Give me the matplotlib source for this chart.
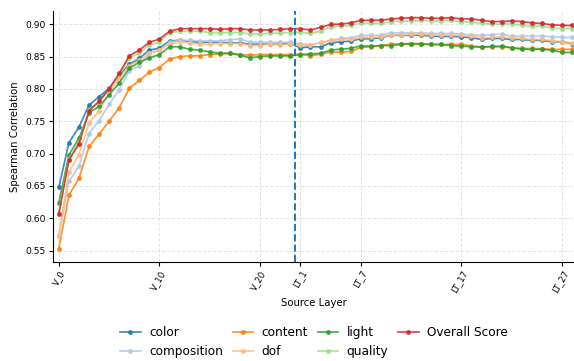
import matplotlib
matplotlib.use("Agg")
import matplotlib.pyplot as plt
import numpy as np

v_layers = [f"V_{i}" for i in range(24)]
lt_layers = [f"LT_{i}" for i in range(1, 29)]
layers = v_layers + lt_layers

tick_labels = ["V_0", "V_10", "V_20", "LT_1", "LT_7", "LT_17", "LT_27"]

color = [0.648, 0.717, 0.741, 0.775, 0.788, 0.801, 0.821, 0.838, 0.847, 0.860, 0.863, 0.874,
         0.875, 0.873, 0.872, 0.872, 0.872, 0.871, 0.871, 0.869, 0.869, 0.869, 0.869, 0.870,
         0.8635, 0.865, 0.865, 0.871, 0.8727, 0.8738, 0.8774, 0.8774, 0.879, 0.883, 0.8825, 0.883,
         0.883, 0.8815, 0.881, 0.881, 0.8805, 0.879, 0.8763, 0.8779, 0.8779, 0.8763, 0.8763, 0.875,
         0.875, 0.8727, 0.8727, 0.870]
composition = [0.572, 0.657, 0.681, 0.731, 0.751, 0.776, 0.799, 0.828, 0.836, 0.855, 0.860, 0.872,
               0.875, 0.875, 0.874, 0.874, 0.874, 0.876, 0.877, 0.872, 0.872, 0.872, 0.872, 0.872,
               0.870, 0.868, 0.871, 0.875, 0.878, 0.879, 0.8825, 0.8825, 0.883, 0.8866, 0.8866, 0.8866,
               0.8866, 0.8856, 0.8856, 0.8856, 0.8846, 0.8835, 0.8825, 0.8835, 0.8846, 0.8815, 0.8815, 0.8815,
               0.8815, 0.8805, 0.8795, 0.8795]
content = [0.553, 0.636, 0.662, 0.711, 0.730, 0.750, 0.771, 0.801, 0.813, 0.826, 0.833, 0.846,
           0.850, 0.851, 0.851, 0.853, 0.854, 0.855, 0.853, 0.852, 0.853, 0.853, 0.853, 0.853,
           0.8537, 0.851, 0.8537, 0.8568, 0.8568, 0.8578, 0.864, 0.865, 0.8666, 0.869, 0.8697, 0.870,
           0.870, 0.8686, 0.8686, 0.8686, 0.869, 0.866, 0.865, 0.865, 0.865, 0.8635, 0.8624, 0.8624,
           0.862, 0.861, 0.861, 0.861]
dof = [0.574, 0.672, 0.698, 0.748, 0.766, 0.794, 0.816, 0.836, 0.844, 0.855, 0.860, 0.869,
       0.873, 0.871, 0.869, 0.869, 0.870, 0.870, 0.870, 0.867, 0.867, 0.869, 0.868, 0.869,
       0.8676, 0.8676, 0.8717, 0.875, 0.8763, 0.8763, 0.8794, 0.8794, 0.8805, 0.883, 0.8835, 0.884,
       0.8846, 0.8835, 0.883, 0.883, 0.8825, 0.881, 0.879, 0.8794, 0.8805, 0.8784, 0.8779, 0.8763,
       0.8763, 0.8743, 0.8727, 0.871]
light = [0.624, 0.698, 0.724, 0.763, 0.773, 0.791, 0.809, 0.832, 0.841, 0.848, 0.853, 0.865,
         0.865, 0.861, 0.860, 0.857, 0.855, 0.855, 0.852, 0.848, 0.850, 0.851, 0.851, 0.851,
         0.8527, 0.8542, 0.8547, 0.860, 0.8614, 0.8624, 0.8666, 0.866, 0.867, 0.867, 0.8686, 0.8697,
         0.869, 0.8686, 0.8686, 0.867, 0.866, 0.865, 0.8645, 0.8655, 0.866, 0.8635, 0.8614, 0.861,
         0.861, 0.860, 0.8563, 0.8563]
quality = [0.609, 0.692, 0.717, 0.767, 0.780, 0.800, 0.822, 0.847, 0.856, 0.868, 0.872, 0.887,
           0.889, 0.889, 0.889, 0.887, 0.887, 0.887, 0.887, 0.885, 0.885, 0.886, 0.886, 0.887,
           0.8877, 0.8856, 0.889, 0.896, 0.897, 0.898, 0.9015, 0.901, 0.901, 0.9036, 0.9046, 0.9046,
           0.9057, 0.905, 0.905, 0.9057, 0.9036, 0.903, 0.901, 0.900, 0.900, 0.9005, 0.8985, 0.897,
           0.897, 0.894, 0.893, 0.893]
overall = [0.607, 0.690, 0.715, 0.766, 0.781, 0.800, 0.824, 0.851, 0.860, 0.872, 0.877, 0.889,
           0.893, 0.893, 0.893, 0.893, 0.892, 0.893, 0.893, 0.891, 0.891, 0.891, 0.892, 0.893,
           0.893, 0.891, 0.895, 0.8995, 0.900, 0.902, 0.9057, 0.906, 0.906, 0.908, 0.909, 0.910,
           0.910, 0.909, 0.909, 0.910, 0.908, 0.908, 0.906, 0.904, 0.904, 0.905, 0.904, 0.902,
           0.901, 0.899, 0.898, 0.898]

series = [
    ("color", color, "#1f77b4"),
    ("composition", composition, "#aec7e8"),
    ("content", content, "#ff7f0e"),
    ("dof", dof, "#ffbb78"),
    ("light", light, "#2ca02c"),
    ("quality", quality, "#98df8a"),
    ("Overall Score", overall, "#d62728"),
]

x = np.arange(len(layers))

fig = plt.figure(figsize=(5.74, 3.61), dpi=100)
ax = fig.add_axes([0.092, 0.275, 0.91, 0.694])

for name, vals, c in series:
    ax.plot(x, vals, marker="o", markersize=2.5, linewidth=1.25, color=c, alpha=0.85, label=name)

ax.axvline(len(v_layers) - 0.5, color="#1f77b4", linestyle="--", linewidth=1.4)

tick_pos = [layers.index(t) for t in tick_labels]
ax.set_xticks(tick_pos)
ax.set_xticklabels(tick_labels, rotation=60, ha="right", rotation_mode="anchor", fontsize=6.2)
ax.set_yticks(np.arange(0.55, 0.901, 0.05))
ax.tick_params(axis="y", labelsize=6.6, length=2.6, pad=2.5)
ax.tick_params(axis="x", length=2.6, pad=2.5)
ax.set_xlim(-0.6, 51.3)
ax.set_ylim(0.533, 0.920)
ax.grid(True, linestyle="--", color="#dddddd", linewidth=0.7, alpha=0.8)
ax.set_axisbelow(True)
for s in ["top", "right"]:
    ax.spines[s].set_visible(False)

ax.set_xlabel("Source Layer", fontsize=7.3, labelpad=3)
ax.set_ylabel("Spearman Correlation", fontsize=7.3, labelpad=4)

ax.legend(loc="upper center", bbox_to_anchor=(0.5, -0.215), ncol=4, frameon=False,
          fontsize=8.7, handlelength=1.7, columnspacing=0.8, handletextpad=0.7, labelspacing=0.45)

fig.savefig("out.png", dpi=100)
